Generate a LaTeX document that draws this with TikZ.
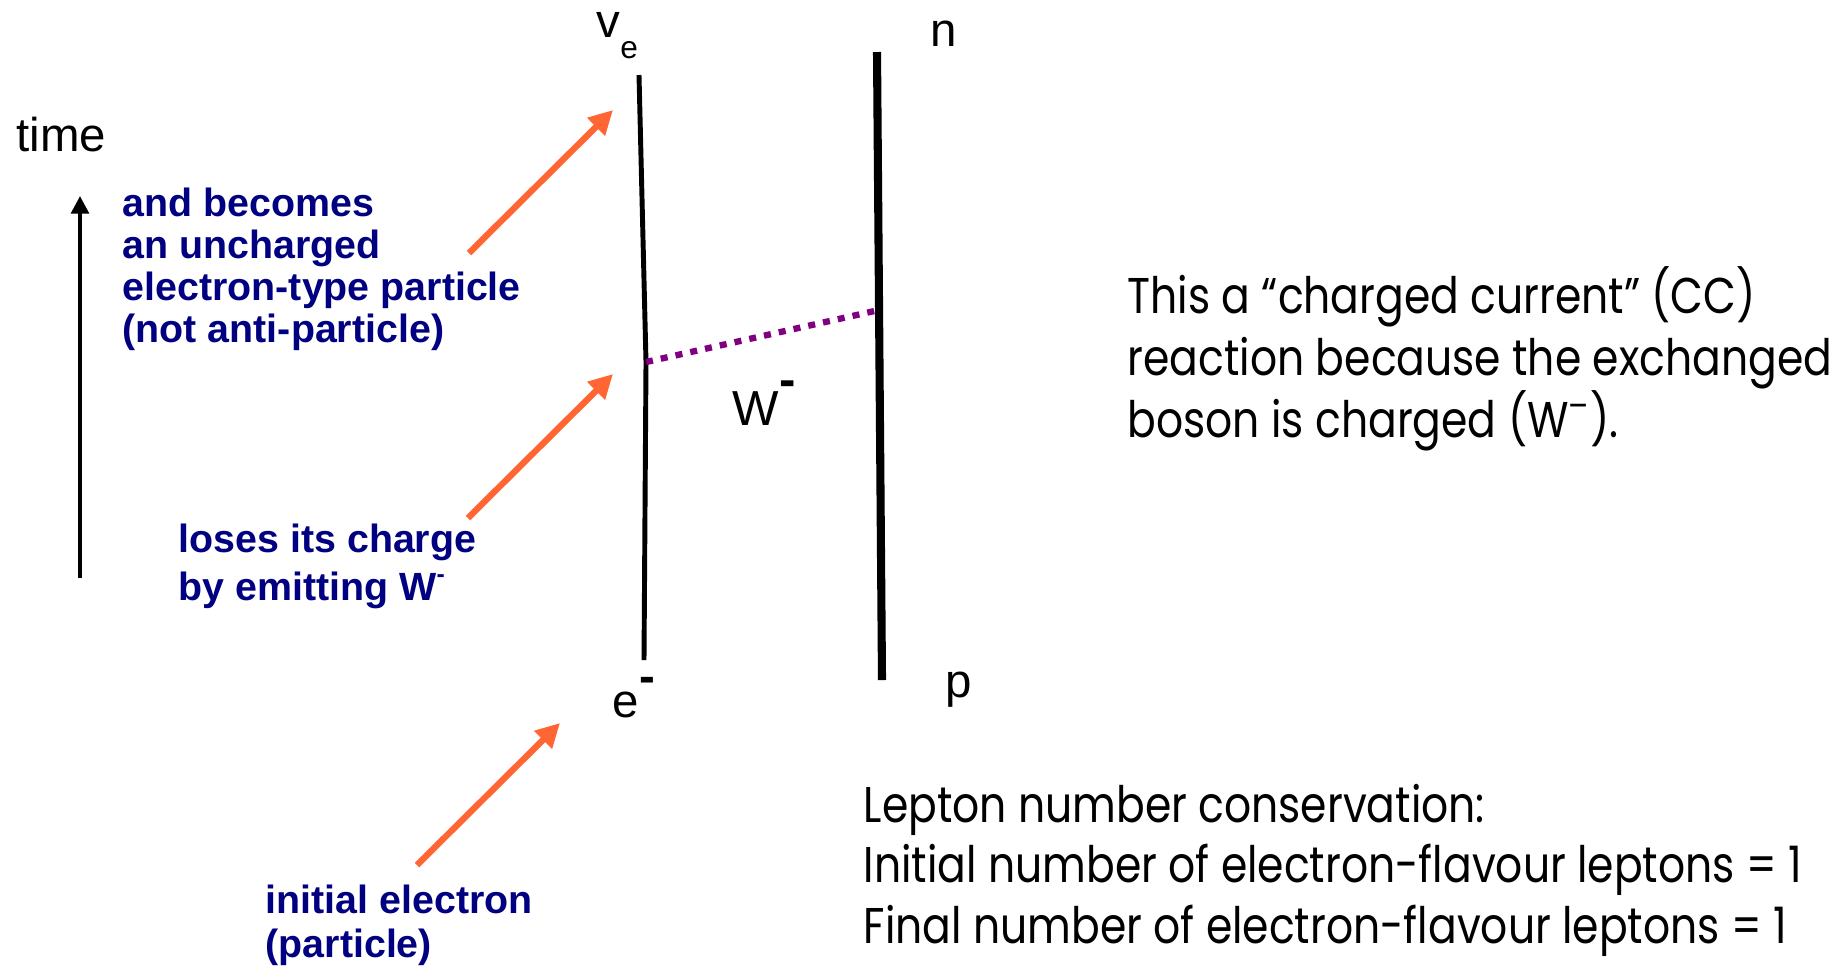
\documentclass[tikz,border=0pt]{standalone}
\usepackage{fontspec}
\setmainfont{Liberation Sans}
\newfontfamily\futura[FakeStretch=0.845]{Poppins}
\usetikzlibrary{arrows.meta,positioning}
\definecolor{navy}{HTML}{000080}
\definecolor{pointerorange}{HTML}{FF6633}
\definecolor{wpurple}{HTML}{800080}

\begin{document}
\begin{tikzpicture}[x=0.1mm,y=-0.1mm,
  lbl/.style={inner sep=0pt,anchor=base west,font=\fontsize{13.5}{14}\selectfont},
  note/.style={inner sep=0pt,anchor=base west,align=left,text=navy,font=\fontsize{11.2}{11.9}\selectfont\bfseries},
  remark/.style={inner sep=0pt,anchor=base west,align=left,font=\fontsize{14.3}{17.6}\selectfont\futura},
  pointer/.style={-{Triangle[length=6.8pt,width=6.8pt]},line width=1.8pt,pointerorange},
  fermion/.style={line width=1.4pt},
  nucleon/.style={line width=2.3pt},
  boson/.style={wpurple,line width=1.8pt,dash pattern=on 2pt off 2.3pt}]
\useasboundingbox (0,0) rectangle (1846,965);

% time axis
\node[lbl] (time) at (16,151) {time};
\coordinate (t0) at (80,578);
\coordinate (t1) at (80,196);
\draw[-{Triangle[length=5pt,width=5pt]},line width=1.1pt] (t0) -- (t1);

% lepton line and nucleon line
\coordinate (etop) at (639,75);
\coordinate (wl) at (646,362);
\coordinate (ebot) at (644,660);
\coordinate (ntop) at (877,52);
\coordinate (wr) at (879,310);
\coordinate (pbot) at (882,680);
\draw[fermion] (ebot) -- (wl) -- (etop);
\draw[nucleon] (pbot) -- (ntop);
\draw[boson] (wl) -- (wr);

\node[lbl] (nue) at (596,37) {v\raisebox{-6pt}{\fontsize{9}{9}\selectfont e}};
\node[lbl] (n) at (930,46) {n};
\node[lbl,font=\fontsize{14}{14}\selectfont] (W) at (732,425) {W\raisebox{8pt}{\bfseries -}};
\node[lbl] (em) at (612,717) {e\raisebox{7pt}{\bfseries -}};
\node[lbl] (p) at (945,697) {p};

% explanations (anchored at last baseline)
\node[note] (becomes) at (122,342) {and becomes\\an uncharged\\electron-type particle\\(not anti-particle)};
\node[note,font=\fontsize{11.2}{13.6}\selectfont\bfseries] (loses) at (178,600) {loses its charge\\by emitting W\raisebox{5pt}{\fontsize{7}{7}\selectfont -}};
\node[note,font=\fontsize{11.2}{12.5}\selectfont\bfseries] (initial) at (265,957) {initial electron\\(particle)};

\coordinate (a1s) at (469,253);
\coordinate (a1e) at (613,110);
\coordinate (a2s) at (468,518);
\coordinate (a2e) at (613,374);
\coordinate (a3s) at (417,865);
\coordinate (a3e) at (560,723);
\draw[pointer] (a1s) -- (a1e);
\draw[pointer] (a2s) -- (a2e);
\draw[pointer] (a3s) -- (a3e);

\node[remark] (cc) at (1127,437) {This a “charged current” (CC)\\reaction because the exchanged\\boson is charged (W\textsuperscript{–}).};
\node[remark,font=\fontsize{14.3}{17.1}\selectfont\futura] (lepton) at (863,943) {Lepton number conservation:\\Initial number of electron-flavour leptons = 1\\Final number of electron-flavour leptons = 1};
\end{tikzpicture}
\end{document}
